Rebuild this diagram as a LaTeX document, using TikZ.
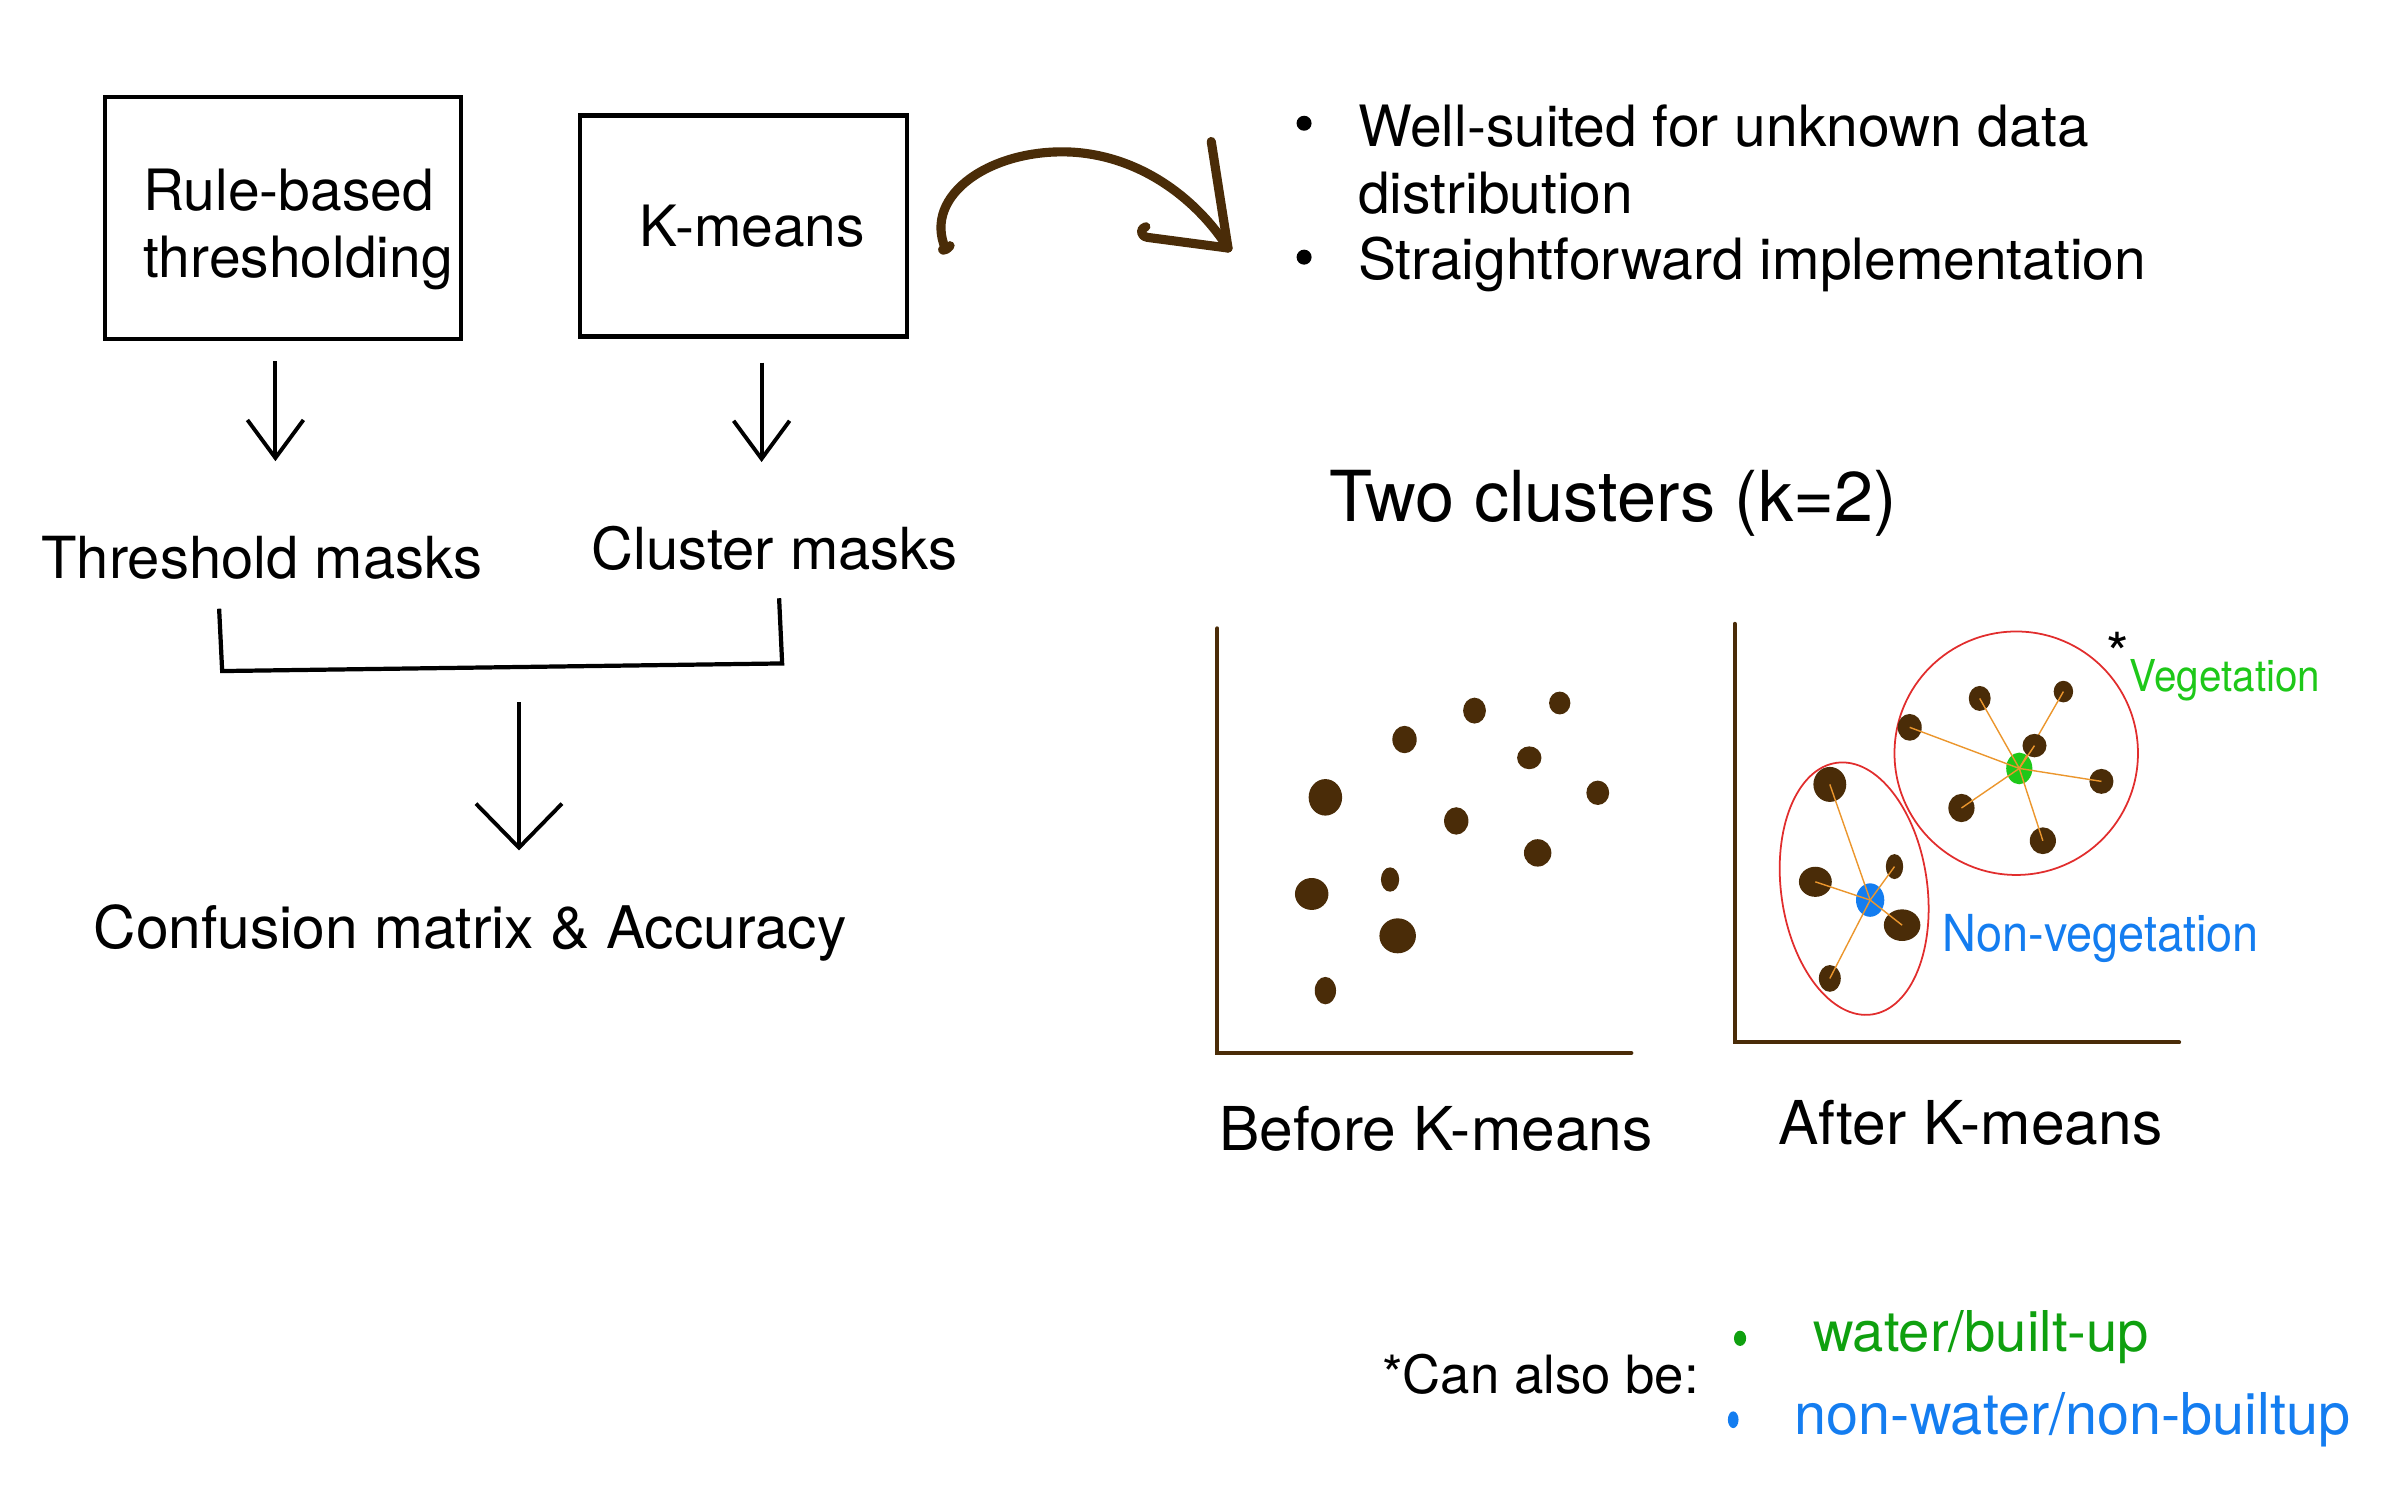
\documentclass[tikz,border=0pt]{standalone}
\usepackage{fontspec}
\setmainfont{TeX Gyre Heros}
\usetikzlibrary{arrows.meta,calc}
\definecolor{dkbrown}{RGB}{74,44,8}
\definecolor{vegreen}{RGB}{30,200,25}
\definecolor{txgreen}{RGB}{15,160,15}
\definecolor{nvblue}{RGB}{20,125,240}
\definecolor{ringred}{RGB}{225,45,45}
\definecolor{linkorange}{RGB}{235,150,45}
\newcommand{\dpx}{0.01522cm}
\newcommand{\fs}[1]{\fontsize{#1}{19pt}\selectfont}
\newcommand{\blob}[4]{
	\fill[dkbrown] (#1,#2) ellipse (#3 and #4);
	}
\newcommand{\member}[5]{
	\fill[dkbrown] (#2,#3) ellipse (#4 and #5);
	\draw[link] (#1) -- (#2,#3);
	}

\begin{document}
\begin{tikzpicture}[
      x=\dpx, y=-\dpx, %one unit is one pixel of the sketch
      box/.style={draw, line width=1.2pt, inner sep=0pt, font=\fs{16.2pt}},
      txt/.style={inner sep=0pt, font=\fs{16.5pt}},
      bullet/.style={circle, fill, inner sep=0pt, minimum size=0.15cm},
      arr/.style={line width=1.1pt, -{Straight Barb[length=0.38cm, width=0.56cm]}},
      arrbig/.style={line width=1.1pt, -{Straight Barb[length=0.44cm, width=0.86cm]}},
      bracket/.style={line width=1.2pt},
      pointer/.style={draw=dkbrown, line width=2.6pt, line cap=round, line join=round},
      axis/.style={draw=dkbrown, line width=1.2pt, line cap=round},
      ring/.style={draw=ringred, line width=0.5pt},
      link/.style={draw=linkorange, line width=0.4pt}
    ]
    \useasboundingbox (0,0) rectangle (1568,980);
    % Draw the two methods
    \node[box, minimum width=3.56cm, minimum height=2.42cm] (rb) at (186,143.5) {\raisebox{-0.12cm}[\height][\depth]{\hspace*{0.3cm}\begin{tabular}{@{}l@{}}Rule-based\\thresholding\end{tabular}}};
    \node[box, minimum width=3.27cm, minimum height=2.21cm] (km) at (488.5,148.5) {\hspace*{0.18cm}K-means};
    % Masks and evaluation
    \node[txt, anchor=base] (thr) at (172,380) {Threshold masks};
    \node[txt, anchor=base] (cl) at (509,374) {Cluster masks};
    \node[txt, font=\fs{16.7pt}, anchor=base] (conf) at (309,623) {Confusion matrix \& Accuracy};
    \coordinate (a1) at ($(rb.south)+(-5,0)$);
    \coordinate (a2) at ($(km.south)+(12,0)$);
    \draw[arr, shorten <=0.2cm, shorten >=0.74cm] (a1) -- (a1 |- thr.north);
    \draw[arr, shorten <=0.24cm, shorten >=0.63cm] (a2) -- (a2 |- cl.north);
    \coordinate (bl) at (146,441);
    \coordinate (br) at (514,436);
    \draw[bracket] ($(thr.south)+(-28,19)$) -- (bl) -- (br) -- ($(cl.south)+(3,18)$);
    \coordinate (bm) at ($(bl)!0.53!(br)$);
    \draw[arrbig, shorten <=0.35cm, shorten >=0.53cm] (bm) -- (bm |- conf.north);
    % Curved pointer to the pros
    \coordinate (tip) at (807,163);
    \draw[pointer] ($(km.east)+(27,13)$) .. controls (621,166) and (617,164) .. ($(km.east)+(24,15)$) .. controls (606,128) and (652,97) .. (705,100) .. controls (752,103) and (788,133) .. (tip);
    \draw[pointer] (tip) .. controls (801,125) .. (796,93);
    \draw[pointer] (tip) -- (754,156) .. controls (749,155) and (749,150) .. (753,149);
    % Pros of k-means
    \node[bullet] (dot1) at (857,81) {};
    \node[txt, font=\fs{16.2pt}, anchor=base west] (pro1) at (892,96) {Well-suited for unknown data};
    \node[txt, font=\fs{16.2pt}, anchor=base west] (pro1b) at (892,140) {distribution};
    \node[bullet] (dot2) at (857,169) {};
    \node[txt, font=\fs{16.2pt}, anchor=base west] (pro2) at (892,184) {Straightforward implementation};
    \node[txt, font=\fs{20pt}, anchor=base west] (title) at (873,343) {Two clusters (k=2)};
    % Before k-means
    \draw[axis] (800,413) -- (800,692) -- (1072,692);
    \blob{871}{524}{11}{12}
    \blob{923}{486}{8}{9}
    \blob{969}{467}{7.5}{8.5}
    \blob{1025}{462}{7}{7.5}
    \blob{1005}{498}{8}{7.5}
    \blob{1050}{521}{7.5}{8}
    \blob{957}{539.5}{8}{9}
    \blob{1010.5}{560.5}{9}{9}
    \blob{862}{587.5}{11}{10.5}
    \blob{913.5}{578}{6}{8}
    \blob{918.5}{615}{12}{11.5}
    \blob{871}{651}{7}{9}
    \node[txt, font=\fs{17.2pt}, anchor=base west] (before) at (801,756) {Before K-means};
    % After k-means
    \draw[axis] (1140,410) -- (1140,685) -- (1432,685);
    \draw[ring] (1325,495) circle (80);
    \begin{scope}[shift={(1218.5,584)}, rotate=8]
      \draw[ring] (0,0) ellipse (48 and 83.5);
    \end{scope}
    \coordinate (cveg) at (1327,505);
    \coordinate (cnon) at (1229,591.5);
    \fill[vegreen] (cveg) ellipse (8.6 and 10.4);
    \fill[nvblue] (cnon) ellipse (9.3 and 11);
    \member{cveg}{1301}{459}{7.2}{8.2}
    \member{cveg}{1356}{454.5}{6.4}{7.1}
    \member{cveg}{1255}{478}{7.9}{8.8}
    \member{cveg}{1337}{490}{7.9}{7.7}
    \member{cveg}{1381}{513.5}{7.9}{8.2}
    \member{cveg}{1289}{531}{8.6}{9.3}
    \member{cveg}{1342.5}{552.5}{8.6}{8.8}
    \member{cnon}{1202.5}{515.5}{10.8}{11.5}
    \member{cnon}{1193}{579.5}{10.8}{9.9}
    \member{cnon}{1245}{569.5}{5.7}{8.2}
    \member{cnon}{1250}{608}{12}{10.4}
    \member{cnon}{1202.5}{643}{7.2}{8.8}
    \node[txt, anchor=base] (star) at (1392,443) {*};
    \node[txt, text=vegreen, anchor=base west] (veg) at (1399,454.5) {\scalebox{0.92}[1]{\fontsize{12.5pt}{12.5pt}\selectfont Vegetation}};
    \node[txt, text=nvblue, anchor=base west] (nonveg) at (1276,625) {\scalebox{0.92}[1]{\fontsize{14.5pt}{14.5pt}\selectfont Non-vegetation}};
    \node[txt, font=\fs{17.2pt}, anchor=base west] (after) at (1168,752) {After K-means};
    % Other possible classes
    \node[txt, font=\fs{15pt}, anchor=base west] (also) at (908,916) {*Can also be:};
    \fill[txgreen] (1143.5,879.5) ellipse (4 and 5);
    \node[txt, font=\fs{16pt}, text=txgreen, anchor=base west] (wat) at (1191,888) {water/built-up};
    \fill[nvblue] (1139,933) ellipse (3.5 and 5.5);
    \node[txt, font=\fs{16.4pt}, text=nvblue, anchor=base west] (nonwat) at (1179,943) {non-water/non-builtup};
\end{tikzpicture}
\end{document}
